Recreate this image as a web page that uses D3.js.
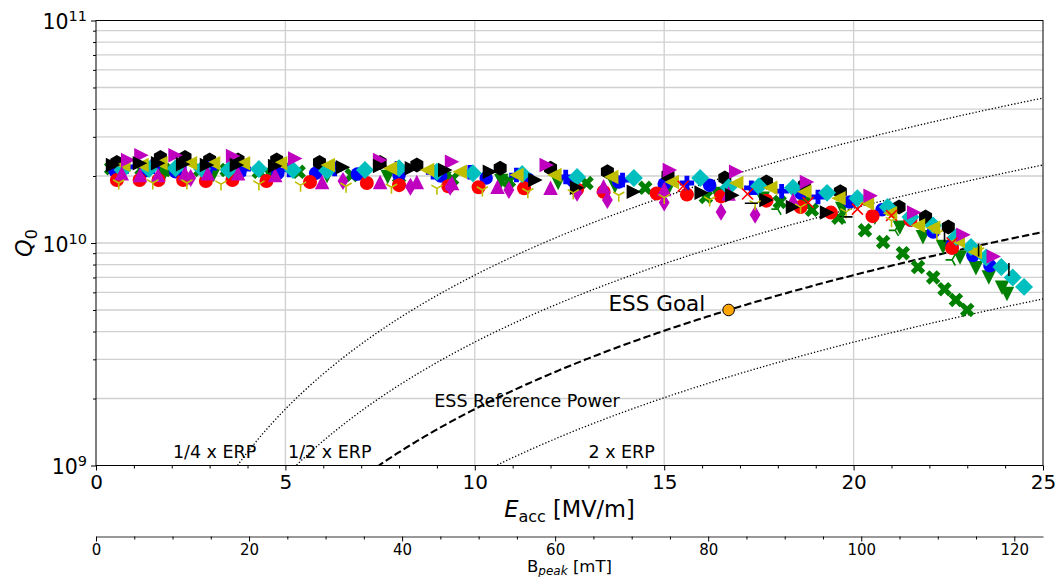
<!DOCTYPE html>
<html><head><meta charset="utf-8">
<script src="https://cdn.jsdelivr.net/npm/d3@7"></script>
<style>
body{margin:0;background:#fff}
text{font-family:"DejaVu Sans","Liberation Sans",sans-serif;fill:#000}
</style>
</head><body><svg id="c" width="1055" height="577"></svg>
<script>
// ---------- data (Q0 values in units of 1e10) ----------
const xTicks = [0,5,10,15,20,25];
const bTicks = [0,20,40,60,80,100,120];
const yTickExps = [9,10,11];
const bPeakPerEacc = 4.95;           // mT per MV/m
const goalE = [16.7];
const goalQ = [0.5];
const powerFactors = [0.25, 0.5, 1, 2];
const powerLabels = ["1/4 x ERP","1/2 x ERP","ESS Reference Power","2 x ERP"];

const greenXE = [0.4,1.2,2.0,2.75,3.45,4.3,5.35,6.75,8.0,9.4,10.9,12.95,14.5,16.1,18.05,18.9,19.6,20.3,20.78,21.3,21.7,22.1,22.4,22.7,23.0];
const greenXQ = [2.17,2.15,2.13,2.13,2.13,2.09,2.09,2.02,1.98,1.94,1.90,1.86,1.77,1.61,1.53,1.41,1.30,1.14,1.01,0.90,0.78,0.70,0.62,0.555,0.50];

const greenVE = [0.6,1.8,3.1,4.6,6.1,7.7,9.2,10.7,12.2,13.7,15.1,16.4,17.6,18.7,19.7,20.56,21.22,21.83,22.36,22.81,23.23,23.57,23.92,24.05];
const greenVQ = [2.04,2.04,2.02,2.02,2.0,1.98,1.94,1.90,1.86,1.80,1.74,1.66,1.58,1.50,1.42,1.30,1.17,1.06,0.96,0.86,0.77,0.70,0.63,0.59];

const blueOE = [0.5,1.3,2.1,2.9,3.8,4.8,5.8,6.9,8.0,9.1,10.3,11.4,12.6,13.8,15.0,16.2,17.4,18.6,19.9,20.75,21.5,22.1,22.6,23.15,23.6];
const blueOQ = [2.11,2.11,2.09,2.09,2.09,2.06,2.06,2.04,2.02,2.0,1.96,1.94,1.90,1.88,1.84,1.82,1.76,1.68,1.53,1.41,1.27,1.12,0.98,0.88,0.79];

const redE = [0.55,1.15,1.65,2.3,2.9,3.6,4.5,5.65,7.15,8.0,9.3,10.1,11.3,12.7,13.4,14.8,15.6,16.5,17.7,18.6,19.4,20.5,21.5,22.6];
const redQ = [1.92,1.92,1.92,1.92,1.90,1.92,1.90,1.88,1.86,1.82,1.80,1.78,1.76,1.74,1.70,1.67,1.65,1.62,1.55,1.45,1.37,1.32,1.27,0.95];

const blackHexE = [0.55,1.7,2.35,3.0,3.75,4.77,5.9,7.5,8.47,10.67,12.0,13.5,15.1,16.6,17.7,18.7,19.65,21.2,21.9,22.5];
const blackHexQ = [2.30,2.42,2.42,2.36,2.36,2.36,2.30,2.30,2.24,2.17,2.17,2.09,2.02,1.96,1.88,1.82,1.70,1.45,1.31,1.18];

const bluePlusE = [0.8,1.5,2.2,3.0,3.9,5.1,6.3,7.95,8.9,9.87,11.1,12.4,13.9,15.6,17.3,18.1,19.06];
const bluePlusQ = [2.20,2.20,2.17,2.17,2.15,2.13,2.15,2.17,2.08,2.08,2.02,1.98,1.92,1.86,1.77,1.71,1.61];

const magThinE = [2.5,6.52,8.3,9.35,10.9,12.7,13.5,15.0,16.5,17.4];
const magThinQ = [1.96,1.90,1.79,1.79,1.73,1.68,1.56,1.52,1.38,1.34];

const cyanE = [0.7,1.4,2.1,2.8,3.5,4.3,5.2,6.1,7.1,8.0,9.0,9.95,11.25,12.7,14.2,15.95,16.7,17.5,18.4,19.3,20.1,20.9,21.5,22.1,22.7,23.1,23.5,23.9,24.2,24.5];
const cyanQ = [2.13,2.15,2.17,2.15,2.13,2.15,2.13,2.11,2.13,2.17,2.09,2.06,2.04,1.98,1.96,1.96,1.78,1.80,1.77,1.68,1.59,1.45,1.31,1.20,1.06,0.96,0.86,0.78,0.70,0.635];

const yellowE = [0.72,1.2,1.7,2.48,3.09,3.88,4.86,6.12,7.76,8.74,9.6,11.1,12.1,13.6,15.2,16.9,17.8,18.7,19.6,20.35,20.96,21.7,22.1,22.75,23.2];
const yellowQ = [2.24,2.24,2.28,2.28,2.28,2.28,2.28,2.24,2.17,2.13,2.09,2.02,2.02,1.98,1.88,1.86,1.77,1.70,1.59,1.51,1.36,1.20,1.17,1.02,0.91];

const magUpE = [0.68,1.16,1.64,2.35,2.95,3.75,4.73,5.97,7.5,8.47,9.4,10.6,12.0,13.4,15.0,16.7,18.4];
const magUpQ = [2.06,2.02,2.02,2.06,2.06,2.06,2.02,1.88,1.88,1.88,1.86,1.79,1.77,1.80,1.75,1.67,1.56];

const magRightE = [0.85,1.2,2.1,3.62,5.26,7.5,9.4,11.9,15.15,16.9,18.77,20.45,21.6,22.9,23.7];
const magRightQ = [2.36,2.48,2.48,2.46,2.40,2.36,2.32,2.24,2.13,2.09,1.88,1.63,1.37,1.09,0.87];

const blackRightE = [0.45,1.16,1.64,2.3,2.93,3.72,4.73,6.52,7.5,8.34,9.22,10.4,11.6,12.7,14.2,15.99,16.8,17.7,18.4,19.3];
const blackRightQ = [2.24,2.28,2.28,2.26,2.24,2.24,2.22,2.19,2.22,2.17,2.13,2.09,1.92,1.77,1.70,1.68,1.64,1.56,1.45,1.37];

const redXE = [15.5,17.2,18.8,20.1,21.0,22.6];
const redXQ = [1.80,1.66,1.52,1.42,1.33,1.00];

const yellowTriE = [0.6,1.5,2.4,3.3,4.3,5.4,6.6,7.8,9.0,10.2,11.4,12.6,13.8,15.0,16.2,17.4,18.6,19.8,21.0,22.2,23.3];
const yellowTriQ = [1.86,1.86,1.86,1.84,1.84,1.82,1.80,1.78,1.76,1.73,1.70,1.68,1.64,1.60,1.56,1.50,1.45,1.38,1.26,1.10,0.92];

const blackHE = [17.3,19.8];
const blackHQ = [1.51,1.31];

const blackVE = [22.4,23.3,24.1];
const blackVQ = [1.08,0.93,0.76];

const greenTriE = [18.0,19.7,21.1,22.6];
const greenTriQ = [1.42,1.30,1.14,0.84];

// ---------- marker shapes ----------
const poly = pts => 'M' + pts.map(p => p[0].toFixed(2) + ',' + p[1].toFixed(2)).join('L') + 'Z';
const shapes = {
  circle: s => { const r = s/2; return `M${r},0A${r},${r} 0 1,1 ${-r},0A${r},${r} 0 1,1 ${r},0Z`; },
  hex: s => poly(d3.range(6).map(k => { const a = (-90 + 60*k) * Math.PI/180; return [s/2*Math.cos(a), s/2*Math.sin(a)]; })),
  up: s => poly([[0,-s/2],[-s/2,s/2],[s/2,s/2]]),
  down: s => poly([[0,s/2],[-s/2,-s/2],[s/2,-s/2]]),
  right: s => poly([[s/2,0],[-s/2,-s/2],[-s/2,s/2]]),
  left: s => poly([[-s/2,0],[s/2,-s/2],[s/2,s/2]]),
  diamond: s => { const a = s*0.62; return poly([[0,-a],[a,0],[0,a],[-a,0]]); },
  thin: s => { const a = s*0.62; return poly([[0,-a],[0.6*a,0],[0,a],[-0.6*a,0]]); },
  plusF: s => poly([[1/3,0],[2/3,0],[2/3,1/3],[1,1/3],[1,2/3],[2/3,2/3],[2/3,1],[1/3,1],[1/3,2/3],[0,2/3],[0,1/3],[1/3,1/3]].map(p => [(p[0]-0.5)*s,(p[1]-0.5)*s])),
  xF: s => poly([[0.25,0],[0.5,0.25],[0.75,0],[1,0.25],[0.75,0.5],[1,0.75],[0.75,1],[0.5,0.75],[0.25,1],[0,0.75],[0.25,0.5],[0,0.25]].map(p => [(p[0]-0.5)*s,(p[1]-0.5)*s])),
  xThin: s => `M${-s/2},${-s/2}L${s/2},${s/2}M${-s/2},${s/2}L${s/2},${-s/2}`,
  tri1: s => `M0,0L0,${s/2}M0,0L${-s*0.433},${-s/4}M0,0L${s*0.433},${-s/4}`,
  tri4: s => `M0,0L${-s/2},0M0,0L${s/4},${-s*0.433}M0,0L${s/4},${s*0.433}`,
  hline: s => `M${-s/2},0L${s/2},0`,
  vline: s => `M0,${-s/2}L0,${s/2}`
};

const C = {b:'#0000ff', g:'#008000', r:'#ff0000', c:'#00bfbf', m:'#bf00bf', y:'#bfbf00', k:'#000000'};
const series = [
  {E:greenXE, Q:greenXQ, shape:'xF', color:C.g, size:14.5},
  {E:greenVE, Q:greenVQ, shape:'down', color:C.g, size:14.5},
  {E:blueOE, Q:blueOQ, shape:'circle', color:C.b, size:13.5},
  {E:redE, Q:redQ, shape:'circle', color:C.r, size:14},
  {E:blackHexE, Q:blackHexQ, shape:'hex', color:C.k, size:15},
  {E:bluePlusE, Q:bluePlusQ, shape:'plusF', color:C.b, size:14.5},
  {E:magThinE, Q:magThinQ, shape:'thin', color:C.m, size:14.5},
  {E:cyanE, Q:cyanQ, shape:'diamond', color:C.c, size:14.5},
  {E:yellowE, Q:yellowQ, shape:'left', color:C.y, size:14.5},
  {E:magUpE, Q:magUpQ, shape:'up', color:C.m, size:14.5},
  {E:magRightE, Q:magRightQ, shape:'right', color:C.m, size:14.5},
  {E:blackRightE, Q:blackRightQ, shape:'right', color:C.k, size:14.5},
  {E:redXE, Q:redXQ, shape:'xThin', color:C.r, size:11, stroke:true},
  {E:yellowTriE, Q:yellowTriQ, shape:'tri1', color:C.y, size:13, stroke:true},
  {E:blackHE, Q:blackHQ, shape:'hline', color:C.k, size:13, stroke:true},
  {E:blackVE, Q:blackVQ, shape:'vline', color:C.k, size:13, stroke:true},
  {E:greenTriE, Q:greenTriQ, shape:'tri4', color:C.g, size:13, stroke:true}
];

// ---------- layout ----------
const svg = d3.select('#c');
const L = 96, R = 1043, T = 20.5, B = 465.5, B2 = 536.5;
const x = d3.scaleLinear().domain([0,25]).range([L,R]);
const y = d3.scaleLog().domain([1e9,1e11]).range([B,T]);
const xB = d3.scaleLinear().domain([0,25*bPeakPerEacc]).range([L,R]);
const q = v => v * 1e10;

svg.append('rect').attr('width',1055).attr('height',577).attr('fill','#fff');
svg.append('defs').append('clipPath').attr('id','clip')
  .append('rect').attr('x',L).attr('y',T).attr('width',R-L).attr('height',B-T);

// grid
const minorY = [];
for (let d = 9; d < 11; d++) for (let k = 2; k <= 9; k++) minorY.push(k * Math.pow(10,d));
const grid = svg.append('g').attr('stroke','#d0d0d0').attr('stroke-width',1.3);
grid.selectAll('.gy').data(minorY.concat([1e10])).join('line')
  .attr('x1',L).attr('x2',R).attr('y1',d=>y(d)).attr('y2',d=>y(d));
grid.selectAll('.gx').data(xTicks.filter(v=>v>0&&v<25)).join('line')
  .attr('y1',T).attr('y2',B).attr('x1',d=>x(d)).attr('x2',d=>x(d));

// power curves
const plot = svg.append('g').attr('clip-path','url(#clip)');
const line = d3.line().x(d=>x(d[0])).y(d=>y(d[1]));
powerFactors.forEach(f => {
  const qAt = E => q(goalQ[0]) * Math.pow(E/goalE[0],2) / f;
  const e0 = goalE[0] * Math.sqrt(1e9 * f / q(goalQ[0])) - 0.05;
  const pts = d3.range(Math.max(e0,0.01), 25.05, 0.05).map(E => [E, qAt(E)]);
  plot.append('path').attr('d', line(pts)).attr('fill','none').attr('stroke','#000')
    .attr('stroke-width', f === 1 ? 2.1 : 1.3)
    .attr('stroke-dasharray', f === 1 ? '7.4,3.2' : '1.3,2.0');
});

// data markers
series.forEach(s => {
  const g = plot.append('g');
  g.selectAll('path').data(s.E.map((e,i)=>[e, s.Q[i]])).join('path')
    .attr('transform', d => `translate(${x(d[0])},${y(q(d[1]))})`)
    .attr('d', shapes[s.shape](s.size))
    .attr('fill', s.stroke ? 'none' : s.color)
    .attr('stroke', s.stroke ? s.color : 'none')
    .attr('stroke-width', s.stroke ? 1.6 : 0);
});

// ESS goal point
plot.append('g').selectAll('circle').data(goalE.map((e,i)=>[e,goalQ[i]])).join('circle')
  .attr('cx', d=>x(d[0])).attr('cy', d=>y(q(d[1]))).attr('r',5.8)
  .attr('fill','#ffa500').attr('stroke','#000').attr('stroke-width',1);

// annotations
const ann = svg.append('g');
const labelPos = [[2.03,1.08e9],[5.07,1.08e9],[8.93,1.83e9],[13.0,1.08e9]];
powerLabels.forEach((t,i) => {
  ann.append('text').attr('x',x(labelPos[i][0])).attr('y',y(labelPos[i][1]))
    .attr('font-size',17.5).text(t);
});
ann.append('text').attr('x',x(13.53)).attr('y',y(4.94e9)).attr('font-size',21.5).text('ESS Goal');

// spines
const sp = svg.append('g').attr('stroke','#000').attr('stroke-width',1).attr('fill','none');
sp.append('rect').attr('x',L).attr('y',T).attr('width',R-L).attr('height',B-T);

// x axis
const xa = svg.append('g').attr('transform',`translate(0,${B})`)
  .call(d3.axisBottom(x).tickValues(xTicks).tickSize(5).tickPadding(4).tickSizeOuter(0));
xa.select('.domain').remove();
xa.selectAll('text').attr('font-size',20).attr('font-family','DejaVu Sans');
svg.append('g').attr('transform',`translate(0,${B})`)
  .call(d3.axisBottom(x).tickValues(d3.range(1,25).filter(v=>v%5)).tickSize(3).tickFormat('').tickSizeOuter(0))
  .select('.domain').remove();

// y axis
const ya = svg.append('g').attr('transform',`translate(${L},0)`)
  .call(d3.axisLeft(y).tickValues(yTickExps.map(e=>Math.pow(10,e))).tickSize(5).tickFormat('').tickSizeOuter(0));
ya.select('.domain').remove();
svg.append('g').attr('transform',`translate(${L},0)`)
  .call(d3.axisLeft(y).tickValues(minorY).tickSize(3).tickFormat('').tickSizeOuter(0))
  .select('.domain').remove();
yTickExps.forEach(e => {
  const t = svg.append('text').attr('x',L-9).attr('y',y(Math.pow(10,e))+8.5)
    .attr('text-anchor','end').attr('font-size',20.5);
  t.append('tspan').text('10');
  t.append('tspan').attr('font-size',14.5).attr('dy',-8).text(String(e));
});

// axis labels
const xl = svg.append('text').attr('x',(L+R)/2).attr('y',517).attr('text-anchor','middle').attr('font-size',22.5);
xl.append('tspan').attr('font-style','italic').text('E');
xl.append('tspan').attr('font-size',16).attr('dy',5).text('acc');
xl.append('tspan').attr('dy',-5).text(' [MV/m]');

const yl = svg.append('text').attr('transform','translate(32,243) rotate(-90)').attr('text-anchor','middle').attr('font-size',22.5);
yl.append('tspan').attr('font-style','italic').text('Q');
yl.append('tspan').attr('font-size',16).attr('dy',5).text('0');

// secondary (B_peak) axis
const ba = svg.append('g').attr('transform',`translate(0,${B2})`)
  .call(d3.axisBottom(xB).tickValues(bTicks).tickSize(5).tickPadding(3).tickSizeOuter(0));
ba.selectAll('text').attr('font-size',15).attr('font-family','DejaVu Sans');
ba.select('.domain').attr('stroke','#333');
svg.append('g').attr('transform',`translate(0,${B2})`)
  .call(d3.axisBottom(xB).tickValues(d3.range(5,124,5).filter(v=>v%20)).tickSize(3).tickFormat('').tickSizeOuter(0))
  .select('.domain').remove();
const bl = svg.append('text').attr('x',(L+R)/2).attr('y',572).attr('text-anchor','middle').attr('font-size',16.5);
bl.append('tspan').text('B');
bl.append('tspan').attr('font-style','italic').attr('font-size',12).attr('dy',3).text('peak');
bl.append('tspan').attr('dy',-3).text(' [mT]');
</script>
</body></html>
